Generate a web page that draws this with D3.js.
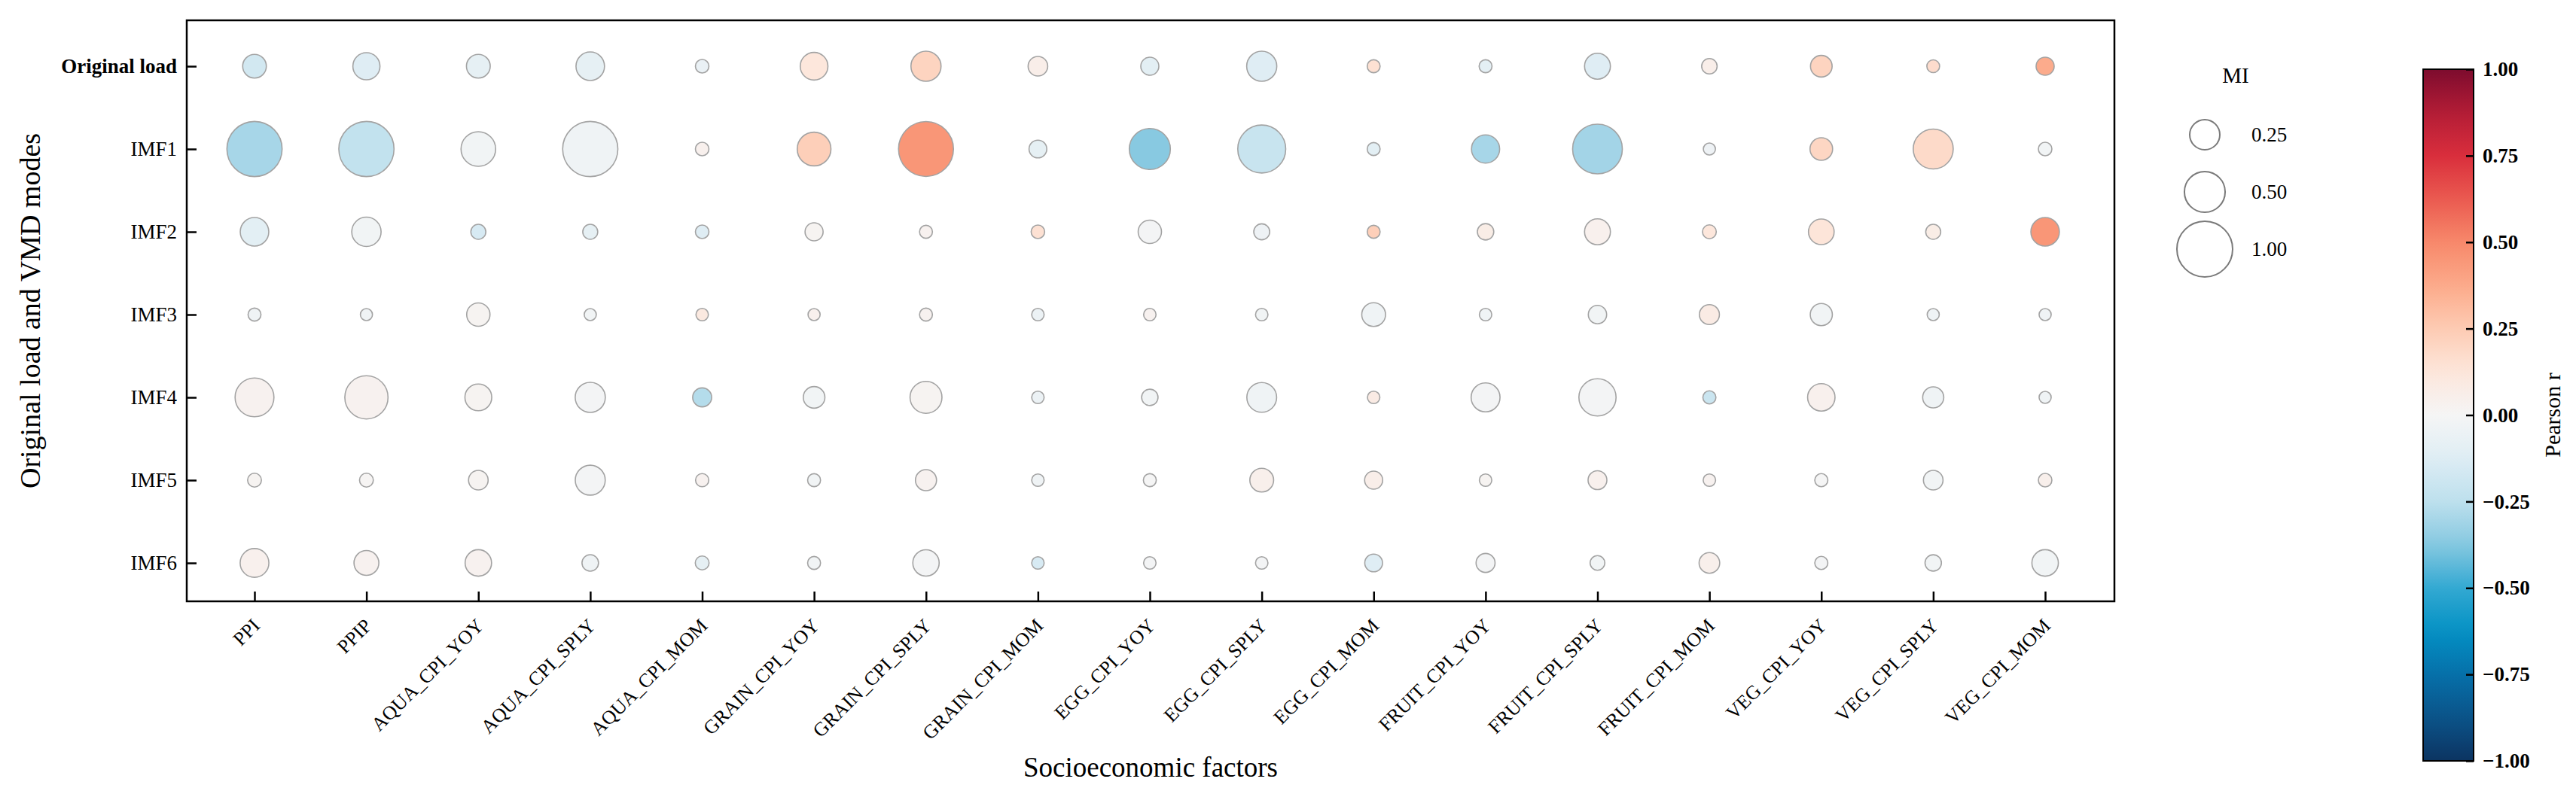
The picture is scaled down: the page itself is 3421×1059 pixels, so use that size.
<!DOCTYPE html>
<html>
<head>
<meta charset="utf-8">
<script src="https://cdn.jsdelivr.net/npm/d3@7"></script>
<style>
  body { margin: 0; background: #fff; }
  svg { display: block; }
  text { font-family: "Liberation Serif", "Times New Roman", "DejaVu Serif", serif; fill: #000; }
</style>
</head>
<body>
<div id="chart"></div>
<script>
// Socioeconomic factors (columns) and decomposition modes (rows)
const factors = ["PPI", "PPIP", "AQUA_CPI_YOY", "AQUA_CPI_SPLY", "AQUA_CPI_MOM",
  "GRAIN_CPI_YOY", "GRAIN_CPI_SPLY", "GRAIN_CPI_MOM", "EGG_CPI_YOY", "EGG_CPI_SPLY",
  "EGG_CPI_MOM", "FRUIT_CPI_YOY", "FRUIT_CPI_SPLY", "FRUIT_CPI_MOM", "VEG_CPI_YOY",
  "VEG_CPI_SPLY", "VEG_CPI_MOM"];
const modes = ["Original load", "IMF1", "IMF2", "IMF3", "IMF4", "IMF5", "IMF6"];

// Mutual information (circle size), one row per mode
const miValues = [
  [0.14, 0.195, 0.142, 0.22, 0.031, 0.205, 0.25, 0.087, 0.07, 0.25, 0.027, 0.027, 0.174, 0.046, 0.112, 0.026, 0.07],
  [0.98, 0.98, 0.346, 0.98, 0.031, 0.326, 0.97, 0.067, 0.51, 0.72, 0.027, 0.213, 0.78, 0.022, 0.125, 0.48, 0.031],
  [0.22, 0.235, 0.042, 0.042, 0.031, 0.07, 0.027, 0.031, 0.135, 0.05, 0.027, 0.054, 0.174, 0.033, 0.17, 0.042, 0.22],
  [0.027, 0.022, 0.135, 0.022, 0.024, 0.022, 0.027, 0.024, 0.024, 0.024, 0.142, 0.024, 0.073, 0.092, 0.118, 0.022, 0.022],
  [0.45, 0.571, 0.19, 0.25, 0.08, 0.112, 0.287, 0.024, 0.054, 0.244, 0.024, 0.227, 0.407, 0.028, 0.2, 0.105, 0.022],
  [0.033, 0.033, 0.087, 0.247, 0.029, 0.027, 0.105, 0.024, 0.027, 0.142, 0.07, 0.024, 0.078, 0.024, 0.028, 0.087, 0.031],
  [0.224, 0.158, 0.184, 0.055, 0.033, 0.027, 0.182, 0.024, 0.024, 0.024, 0.067, 0.08, 0.04, 0.099, 0.028, 0.054, 0.184]
];

// Pearson r (circle colour), same layout
const pearsonR = [
  [-0.17, -0.12, -0.08, -0.08, -0.06, 0.12, 0.21, 0.06, -0.1, -0.12, 0.15, -0.09, -0.12, 0.06, 0.21, 0.17, 0.37],
  [-0.3, -0.23, -0.02, -0.03, 0.04, 0.23, 0.45, -0.08, -0.37, -0.21, -0.1, -0.3, -0.31, -0.04, 0.2, 0.18, -0.02],
  [-0.1, -0.02, -0.15, -0.08, -0.12, 0.02, 0.03, 0.15, -0.01, -0.04, 0.23, 0.07, 0.04, 0.12, 0.13, 0.07, 0.45],
  [-0.03, -0.03, 0.02, -0.02, 0.1, 0.04, 0.03, -0.05, 0.03, -0.02, -0.03, -0.03, -0.02, 0.08, -0.02, -0.03, -0.03],
  [0.03, 0.03, 0.02, -0.01, -0.27, -0.02, 0.02, -0.05, -0.02, -0.03, 0.08, -0.01, -0.01, -0.2, 0.04, -0.03, -0.03],
  [0.02, 0.01, 0.02, -0.01, 0.03, -0.02, 0.03, -0.03, 0, 0.05, 0.06, 0.02, 0.04, 0.03, 0, -0.02, 0.05],
  [0.04, 0.03, 0.03, -0.03, -0.08, -0.02, -0.01, -0.15, -0.01, -0.01, -0.12, -0.01, -0.02, 0.05, -0.01, -0.02, -0.02]
];

const miLegend = [0.25, 0.5, 1.0];
const colorbarTicks = [1, 0.75, 0.5, 0.25, 0, -0.25, -0.5, -0.75, -1];

// Diverging colour ramp, from r = -1 to r = 1
const rampColors = ["#0c3461", "#0b5389", "#0670a9", "#0391c4", "#33a9d2", "#86c8e0", "#bde0ed", "#deedf4",
  "#f5f5f5", "#fde6db", "#fdcbb3", "#fcaa8a", "#f7886b", "#ea5a50", "#d92e3c", "#b31c36", "#7d0c2e"];

// Layout
const W = 3421, H = 1059;
const margin = {top: 27, left: 248};
const width = 2560, height = 772;

const svg = d3.select("#chart")
  .append("svg")
    .attr("width", W)
    .attr("height", H);

const g = svg.append("g")
    .attr("transform", `translate(${margin.left},${margin.top})`);

// Scales
const x = d3.scalePoint().domain(factors).range([90, width - 92]);
const y = d3.scalePoint().domain(modes).range([61, height - 51]);
const r = d3.scaleSqrt().domain([0, 1]).range([3, 37]);
const ramp = d3.piecewise(d3.interpolateRgb, rampColors);
const color = v => ramp((v + 1) / 2);

// Flatten the matrices into points
const points = [];
modes.forEach((m, i) => {
  factors.forEach((f, j) => {
    points.push({mode: m, factor: f, mi: miValues[i][j], r: pearsonR[i][j]});
  });
});

// X axis (ticks pointing inward, rotated labels)
g.append("g")
    .attr("transform", `translate(0,${height})`)
    .call(d3.axisBottom(x).tickSize(-13).tickSizeOuter(0))
    .call(a => a.select(".domain").remove())
    .call(a => a.selectAll("line").attr("stroke", "#000").attr("stroke-width", 2.5))
    .selectAll("text")
      .attr("x", 0)
      .attr("y", 0)
      .attr("dy", 0)
      .attr("transform", "translate(8,34) rotate(-45)")
      .style("text-anchor", "end")
      .style("font-size", "26px")
      .style("font-family", "'Liberation Serif', serif");

// Y axis
g.append("g")
    .call(d3.axisLeft(y).tickSize(-13).tickSizeOuter(0).tickPadding(13))
    .call(a => a.select(".domain").remove())
    .call(a => a.selectAll("line").attr("stroke", "#000").attr("stroke-width", 2.5))
    .selectAll("text")
      .style("font-size", "27px")
      .style("font-family", "'Liberation Serif', serif")
      .style("font-weight", d => d === "Original load" ? "bold" : "normal");

// Bubbles
g.selectAll("circle.bubble")
  .data(points)
  .join("circle")
    .attr("class", "bubble")
    .attr("cx", d => x(d.factor))
    .attr("cy", d => y(d.mode))
    .attr("r", d => r(d.mi))
    .attr("fill", d => color(d.r))
    .attr("stroke", "#a3a3a3")
    .attr("stroke-width", 1.6);

// Frame
g.append("rect")
    .attr("width", width)
    .attr("height", height)
    .attr("fill", "none")
    .attr("stroke", "#000")
    .attr("stroke-width", 2.5);

// Axis titles
svg.append("text")
    .attr("x", margin.left + width / 2)
    .attr("y", 1032)
    .attr("text-anchor", "middle")
    .style("font-size", "37px")
    .text("Socioeconomic factors");

svg.append("text")
    .attr("transform", `translate(53,${margin.top + height / 2}) rotate(-90)`)
    .attr("text-anchor", "middle")
    .style("font-size", "38px")
    .text("Original load and VMD modes");

// Size legend (MI)
const legend = svg.append("g").attr("transform", "translate(2928,0)");
legend.append("text")
    .attr("x", 41)
    .attr("y", 100)
    .attr("dy", "0.35em")
    .attr("text-anchor", "middle")
    .style("font-size", "29px")
    .text("MI");

const legendItems = legend.selectAll("g.item")
  .data(miLegend)
  .join("g")
    .attr("class", "item")
    .attr("transform", (d, i) => `translate(0,${179 + i * 76})`);

legendItems.append("circle")
    .attr("r", d => r(d))
    .attr("fill", "none")
    .attr("stroke", "#7a7a7a")
    .attr("stroke-width", 2);

legendItems.append("text")
    .attr("x", 62)
    .attr("dy", "0.35em")
    .style("font-size", "27px")
    .text(d => d3.format(".2f")(d));

// Colour bar (Pearson r)
const cbX = 3218, cbW = 67;
const cbY = d3.scaleLinear().domain([-1, 1]).range([1011, 92]);

const defs = svg.append("defs");
const grad = defs.append("linearGradient")
    .attr("id", "cbGrad")
    .attr("x1", 0).attr("y1", 1)
    .attr("x2", 0).attr("y2", 0);
grad.selectAll("stop")
  .data(d3.range(0, 1.0001, 0.025))
  .join("stop")
    .attr("offset", d => d)
    .attr("stop-color", d => color(d * 2 - 1));

svg.append("rect")
    .attr("x", cbX)
    .attr("y", cbY(1))
    .attr("width", cbW)
    .attr("height", cbY(-1) - cbY(1))
    .attr("fill", "url(#cbGrad)")
    .attr("stroke", "#000")
    .attr("stroke-width", 2);

svg.append("g")
    .attr("transform", `translate(${cbX + cbW},0)`)
    .call(d3.axisRight(cbY).tickValues(colorbarTicks).tickFormat(d3.format(".2f"))
      .tickSize(-10).tickSizeOuter(0).tickPadding(12))
    .call(a => a.select(".domain").remove())
    .call(a => a.selectAll("line").attr("stroke", "#000").attr("stroke-width", 2.5))
    .selectAll("text")
      .style("font-size", "27px")
      .style("font-weight", "bold")
      .style("font-family", "'Liberation Serif', serif");

svg.append("text")
    .attr("transform", `translate(3400,${(cbY(1) + cbY(-1)) / 2}) rotate(-90)`)
    .attr("text-anchor", "middle")
    .style("font-size", "30px")
    .text("Pearson r");
</script>
</body>
</html>
